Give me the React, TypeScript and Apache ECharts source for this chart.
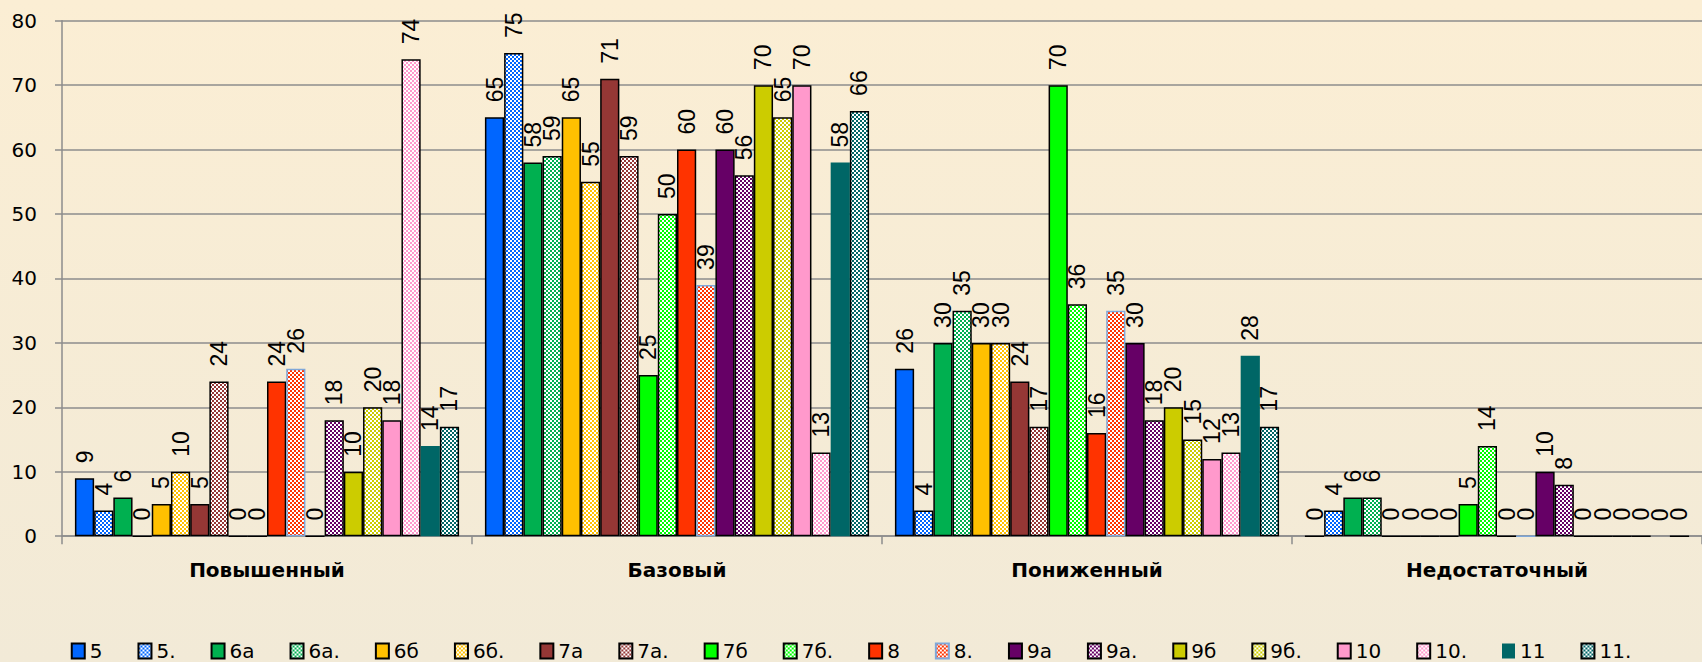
import React, { useEffect, useRef } from "react";
import * as echarts from "echarts";

const categories = ["Повышенный", "Базовый", "Пониженный", "Недостаточный"];
const seriesNames = ["5", "5.", "6а", "6а.", "6б", "6б.", "7а", "7а.", "7б", "7б.", "8", "8.", "9а", "9а.", "9б", "9б.", "10", "10.", "11", "11."];
const povyshenny = [9, 4, 6, 0, 5, 10, 5, 24, 0, 0, 24, 26, 0, 18, 10, 20, 18, 74, 14, 17];
const bazovy = [65, 75, 58, 59, 65, 55, 71, 59, 25, 50, 60, 39, 60, 56, 70, 65, 70, 13, 58, 66];
const ponizhenny = [26, 4, 30, 35, 30, 30, 24, 17, 70, 36, 16, 35, 30, 18, 20, 15, 12, 13, 28, 17];
const nedostatochny = [0, 4, 6, 6, 0, 0, 0, 0, 5, 14, 0, 0, 10, 8, 0, 0, 0, 0, 0, 0];
const yTicks = [0, 10, 20, 30, 40, 50, 60, 70, 80];
const classColors = ["#0066FF", "#00B050", "#FFC000", "#953735", "#00FF00", "#FF3300", "#660066", "#CCCC00", "#FF99CC", "#006666"];

function makePattern(color: string) {
  const c = document.createElement("canvas");
  c.width = 4;
  c.height = 4;
  const ctx = c.getContext("2d")!;
  ctx.fillStyle = "#FFFFFF";
  ctx.fillRect(0, 0, 4, 4);
  ctx.fillStyle = color;
  ctx.fillRect(0, 0, 2, 2);
  ctx.fillRect(2, 2, 2, 2);
  return { image: c.toDataURL(), repeat: "repeat", imageWidth: 4, imageHeight: 4 } as any;
}

export default function App() {
  const ref = useRef<HTMLDivElement>(null);
  useEffect(() => {
    document.body.style.margin = "0";
    const chart = echarts.init(ref.current!, null, { renderer: "svg" });
    const series = seriesNames.map((name, i) => {
      const base = classColors[Math.floor(i / 2)];
      const patterned = i % 2 === 1;
      let borderColor = "#000000";
      let borderWidth = 1.5;
      if (name === "8.") borderColor = "#7FA7D9";
      if (name === "11") borderWidth = 0;
      return {
        name,
        type: "bar",
        data: [povyshenny[i], bazovy[i], ponizhenny[i], nedostatochny[i]],
        barGap: "0%",
        barCategoryGap: "6.3%",
        itemStyle: {
          color: patterned ? makePattern(base) : base,
          borderColor,
          borderWidth,
        },
        label: {
          show: true,
          position: "top",
          rotate: 90,
          align: "left",
          verticalAlign: "middle",
          distance: 15,
          color: "#000000",
          fontFamily: "'Liberation Sans', Arial, sans-serif",
          fontSize: 23,
        },
      };
    });
    chart.setOption({
      animation: false,
      backgroundColor: new echarts.graphic.LinearGradient(0, 0, 0, 1, [
        { offset: 0, color: "#FBEED4" },
        { offset: 1, color: "#F2EAD7" },
      ]),
      grid: { left: 62, top: 20.7, width: 1648, height: 515.5 },
      legend: {
        left: "center",
        top: 636,
        icon: "rect",
        itemWidth: 13,
        itemHeight: 15,
        itemGap: 35,
        textStyle: { fontFamily: "'DejaVu Sans', sans-serif", fontSize: 20, color: "#000000" },
        data: seriesNames,
      },
      xAxis: {
        type: "category",
        data: categories,
        axisLine: { lineStyle: { color: "#8C8C8C", width: 1.5 } },
        axisTick: { show: true, length: 8, lineStyle: { color: "#8C8C8C", width: 1.5 } },
        axisLabel: {
          margin: 24,
          fontFamily: "'DejaVu Sans', sans-serif",
          fontWeight: "bold",
          fontSize: 20,
          color: "#000000",
        },
      },
      yAxis: {
        type: "value",
        min: yTicks[0],
        max: yTicks[yTicks.length - 1],
        interval: 10,
        axisLine: { show: true, lineStyle: { color: "#8C8C8C", width: 1.5 } },
        axisTick: { show: true, length: 7, lineStyle: { color: "#8C8C8C", width: 1.5 } },
        splitLine: { lineStyle: { color: "#8C8C8C", width: 1.5 } },
        axisLabel: {
          margin: 25,
          fontFamily: "'DejaVu Sans', sans-serif",
          fontSize: 20,
          color: "#000000",
        },
      },
      series,
    });
    return () => chart.dispose();
  }, []);
  return <div ref={ref} style={{ width: 1702, height: 662 }} />;
}
